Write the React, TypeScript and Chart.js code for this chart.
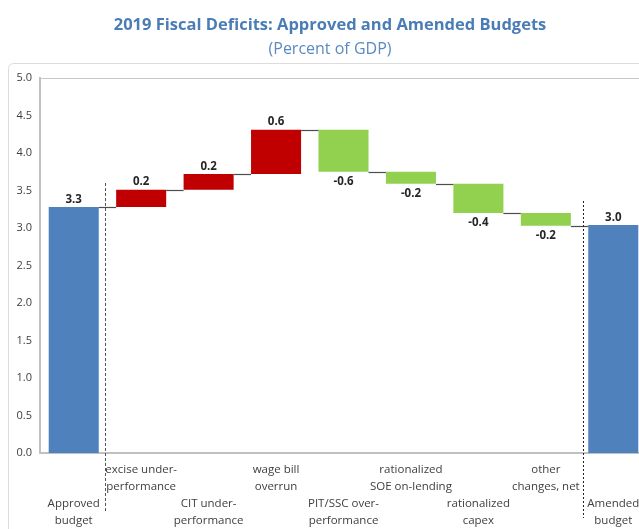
import React, { useEffect, useRef } from "react";
import { Chart, registerables } from "chart.js";

Chart.register(...registerables);

// ---- Data ----
const categories: string[][] = [
  ["Approved", "budget"],
  ["excise under-", "performance"],
  ["CIT under-", "performance"],
  ["wage bill", "overrun"],
  ["PIT/SSC over-", "performance"],
  ["rationalized", "SOE on-lending"],
  ["rationalized", "capex"],
  ["other", "changes, net"],
  ["Amended", "budget"],
];
const approvedBudget = 3.28;
const changes = [0.23, 0.21, 0.59, -0.56, -0.16, -0.39, -0.17];
const amendedBudget = 3.04;
const yTicks = [0, 0.5, 1, 1.5, 2, 2.5, 3, 3.5, 4, 4.5, 5];
const dividerPositions = [0.47, 7.55];
const dividerTops = [3.6, 3.36];

const titleText = "2019 Fiscal Deficits: Approved and Amended Budgets";
const subtitleText = "(Percent of GDP)";

const BLUE = "#4f81bd";
const RED = "#c00000";
const GREEN = "#92d050";
const FONT = "'Open Sans', 'Noto Sans', sans-serif";

// ---- Build floating ranges ----
const ranges: number[][] = [];
const signedValues: number[] = [];
const levels: number[] = [];
ranges.push([0, approvedBudget]);
signedValues.push(approvedBudget);
let cum = approvedBudget;
levels.push(cum);
changes.forEach((c) => {
  ranges.push([cum, cum + c]);
  signedValues.push(c);
  cum += c;
  levels.push(cum);
});
ranges.push([0, amendedBudget]);
signedValues.push(amendedBudget);
levels.push(amendedBudget);

const colors = signedValues.map((v, i) =>
  i === 0 || i === signedValues.length - 1 ? BLUE : v >= 0 ? RED : GREEN
);

const decorPlugin = {
  id: "decor",
  beforeDraw(chart: any) {
    const { ctx, width, height } = chart;
    ctx.save();
    ctx.fillStyle = "#ffffff";
    ctx.fillRect(0, 0, width, height);
    // frame
    ctx.strokeStyle = "#dcdcdc";
    ctx.lineWidth = 1;
    ctx.beginPath();
    (ctx as any).roundRect(0.5, 55.5, width + 10, height + 10, 5);
    ctx.stroke();
    // titles
    ctx.textAlign = "center";
    ctx.textBaseline = "middle";
    ctx.fillStyle = "#4a7db5";
    ctx.font = `bold 16.5px ${FONT}`;
    ctx.fillText(titleText, width / 2, 17);
    ctx.fillStyle = "#5a8ac2";
    ctx.font = `16px ${FONT}`;
    ctx.fillText(subtitleText, width / 2, 41);
    ctx.restore();
  },
  beforeDatasetsDraw(chart: any) {
    const { ctx, chartArea } = chart;
    ctx.save();
    ctx.strokeStyle = "#c8c8c8";
    ctx.lineWidth = 1;
    ctx.beginPath();
    ctx.moveTo(chartArea.left, chartArea.top + 0.5);
    ctx.lineTo(chart.width, chartArea.top + 0.5);
    ctx.stroke();
    ctx.restore();
  },
  afterDatasetsDraw(chart: any) {
    const { ctx, chartArea } = chart;
    const meta = chart.getDatasetMeta(0);
    const y = chart.scales.y;
    const x = chart.scales.x;
    ctx.save();
    // connectors
    ctx.strokeStyle = "#4d4d4d";
    ctx.lineWidth = 1.2;
    for (let i = 0; i < meta.data.length - 1; i++) {
      const a = meta.data[i];
      const b = meta.data[i + 1];
      const py = Math.round(y.getPixelForValue(levels[i])) + 0.5;
      ctx.beginPath();
      ctx.moveTo(a.x + a.width / 2, py);
      ctx.lineTo(b.x - b.width / 2, py);
      ctx.stroke();
    }
    // dividers
    dividerPositions.forEach((pos, k) => {
      const px = Math.round(x.getPixelForValue(pos)) + 0.5;
      ctx.strokeStyle = k === 0 ? "#555555" : "#222222";
      ctx.lineWidth = 1;
      ctx.setLineDash(k === 0 ? [3, 2] : [2, 2]);
      ctx.beginPath();
      ctx.moveTo(px, y.getPixelForValue(dividerTops[k]));
      ctx.lineTo(px, chartArea.bottom + (k === 0 ? 59 : 65));
      ctx.stroke();
    });
    ctx.setLineDash([]);
    // value labels
    ctx.font = `bold 11.5px ${FONT}`;
    ctx.fillStyle = "#262626";
    ctx.textAlign = "center";
    meta.data.forEach((el: any, i: number) => {
      const top = Math.min(el.y, el.base);
      const bottom = Math.max(el.y, el.base);
      const v = signedValues[i];
      const txt = v.toFixed(1);
      if (v >= 0) {
        ctx.textBaseline = "bottom";
        ctx.fillText(txt, el.x, top - 2);
      } else {
        ctx.textBaseline = "top";
        ctx.fillText(txt, el.x, bottom + 4);
      }
    });
    ctx.restore();
  },
};

export default function App() {
  const ref = useRef<HTMLCanvasElement>(null);
  useEffect(() => {
    document.documentElement.style.overflow = "hidden";
    document.body.style.overflow = "hidden";
    const chart = new Chart(ref.current as HTMLCanvasElement, {
      type: "bar",
      data: {
        labels: categories.map((c) => c.join(" ")),
        datasets: [
          {
            data: ranges as any,
            backgroundColor: colors,
            borderWidth: 0,
            borderSkipped: false,
            barPercentage: 0.742,
            categoryPercentage: 1,
          },
        ],
      },
      options: {
        responsive: false,
        animation: false,
        layout: { padding: { top: 70, right: 5, left: 0, bottom: 0 } },
        plugins: {
          legend: { display: false },
          tooltip: { enabled: false },
          title: { display: false },
        },
        scales: {
          x: {
            grid: { display: false, drawTicks: false },
            border: { display: true, color: "#c0c0c0", width: 2 },
            ticks: {
              autoSkip: false,
              maxRotation: 0,
              minRotation: 0,
              padding: 8,
              color: "#404040",
              font: { family: FONT, size: 11.5, lineHeight: "17px" },
              callback: (_v: any, idx: number) =>
                idx % 2 === 0 ? ["", "", ...categories[idx]] : categories[idx],
            },
            afterFit: (s: any) => {
              s.height = 76;
            },
          },
          y: {
            min: 0,
            max: 5,
            grid: { display: false, drawTicks: false },
            border: { display: true, color: "#c0c0c0", width: 2 },
            afterBuildTicks: (s: any) => {
              s.ticks = yTicks.map((v) => ({ value: v }));
            },
            ticks: {
              padding: 8,
              color: "#404040",
              font: { family: FONT, size: 11 },
              callback: (v: any) => Number(v).toFixed(1),
            },
            afterFit: (s: any) => {
              s.width = 32;
            },
          },
        },
      },
      plugins: [decorPlugin],
    });
    return () => chart.destroy();
  }, []);
  return (
    <div
      style={{
        position: "fixed",
        left: 8,
        top: 8,
        width: 631,
        height: 521,
        overflow: "hidden",
      }}
    >
      <canvas ref={ref} width={644} height={521} style={{ display: "block" }} />
    </div>
  );
}
